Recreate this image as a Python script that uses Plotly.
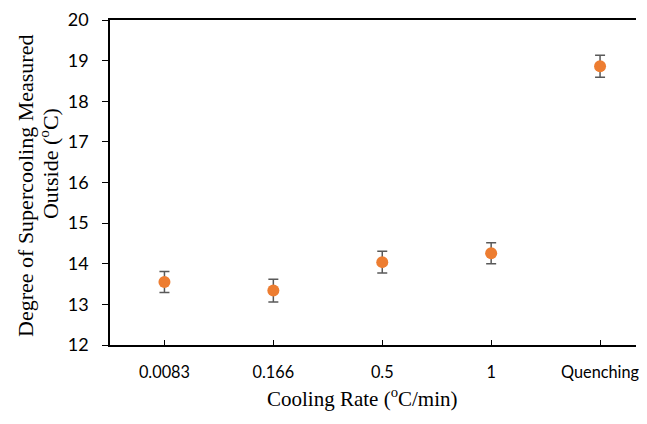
import plotly.graph_objects as go

categories = ["0.0083", "0.166", "0.5", "1", "Quenching"]
supercooling = [13.55, 13.34, 14.04, 14.26, 18.86]
error = [0.26, 0.28, 0.27, 0.26, 0.27]
y_ticks = [12, 13, 14, 15, 16, 17, 18, 19, 20]

# the page adds an 8px body margin; compensate so the figure lines up with the window
OFF = 8
W, H = 647 - 2 * OFF, 424 - 2 * OFF
L, T = 110 - OFF, 17 - OFF
B = H - (345 - OFF)
R = 0

fig = go.Figure()
fig.add_trace(go.Scatter(
    x=categories, y=supercooling, mode="markers",
    marker=dict(color="#ED7D31", size=12),
    error_y=dict(type="data", array=error, visible=True, color="#595959", thickness=1.5, width=5),
    showlegend=False,
))

serif = "Liberation Serif, Times New Roman, serif"
fig.update_layout(
    width=W, height=H,
    margin=dict(l=L, r=R, t=T, b=B, pad=0),
    paper_bgcolor="white", plot_bgcolor="white",
    font=dict(family="Lato, Open Sans, sans-serif", color="#000000", size=16),
    xaxis=dict(
        type="category", range=[-0.5, 4.33],
        showline=True, linecolor="#000000", linewidth=1.5, mirror=True,
        ticks="inside", ticklen=5, tickcolor="#000000", tickwidth=1.2,
        ticklabelstandoff=12, showgrid=False, zeroline=False,
        ticklabeloverflow="allow",
        tickfont=dict(size=16.3),
    ),
    yaxis=dict(
        range=[12, 20], tickvals=y_ticks,
        showline=True, linecolor="#000000", linewidth=1.5,
        ticks="outside", ticklen=6, tickcolor="#000000", tickwidth=1.2,
        ticklabelstandoff=10, showgrid=False, zeroline=False,
        ticklabeloverflow="allow",
        tickfont=dict(size=18),
    ),
)

# annotations given in window pixel positions (centre), converted to paper coordinates
pw = W - L - R
ph = H - T - B
titles = [
    ("Cooling Rate (<sup>o</sup>C/min)", 364, 398, 0, 21),
    ("Degree of Supercooling Measured", 25, 184, -90, 22),
    ("Outside (<sup>o</sup>C)", 48, 162, -90, 22),
]
for text, px, py, ang, size in titles:
    sx, sy = px - OFF, py - OFF
    fig.add_annotation(
        text=text, xref="paper", yref="paper",
        x=(sx - L) / pw, y=(H - B - sy) / ph,
        xanchor="center", yanchor="middle", textangle=ang, showarrow=False,
        font=dict(family=serif, size=size, color="#000000"),
    )

fig.write_html("out.html")
